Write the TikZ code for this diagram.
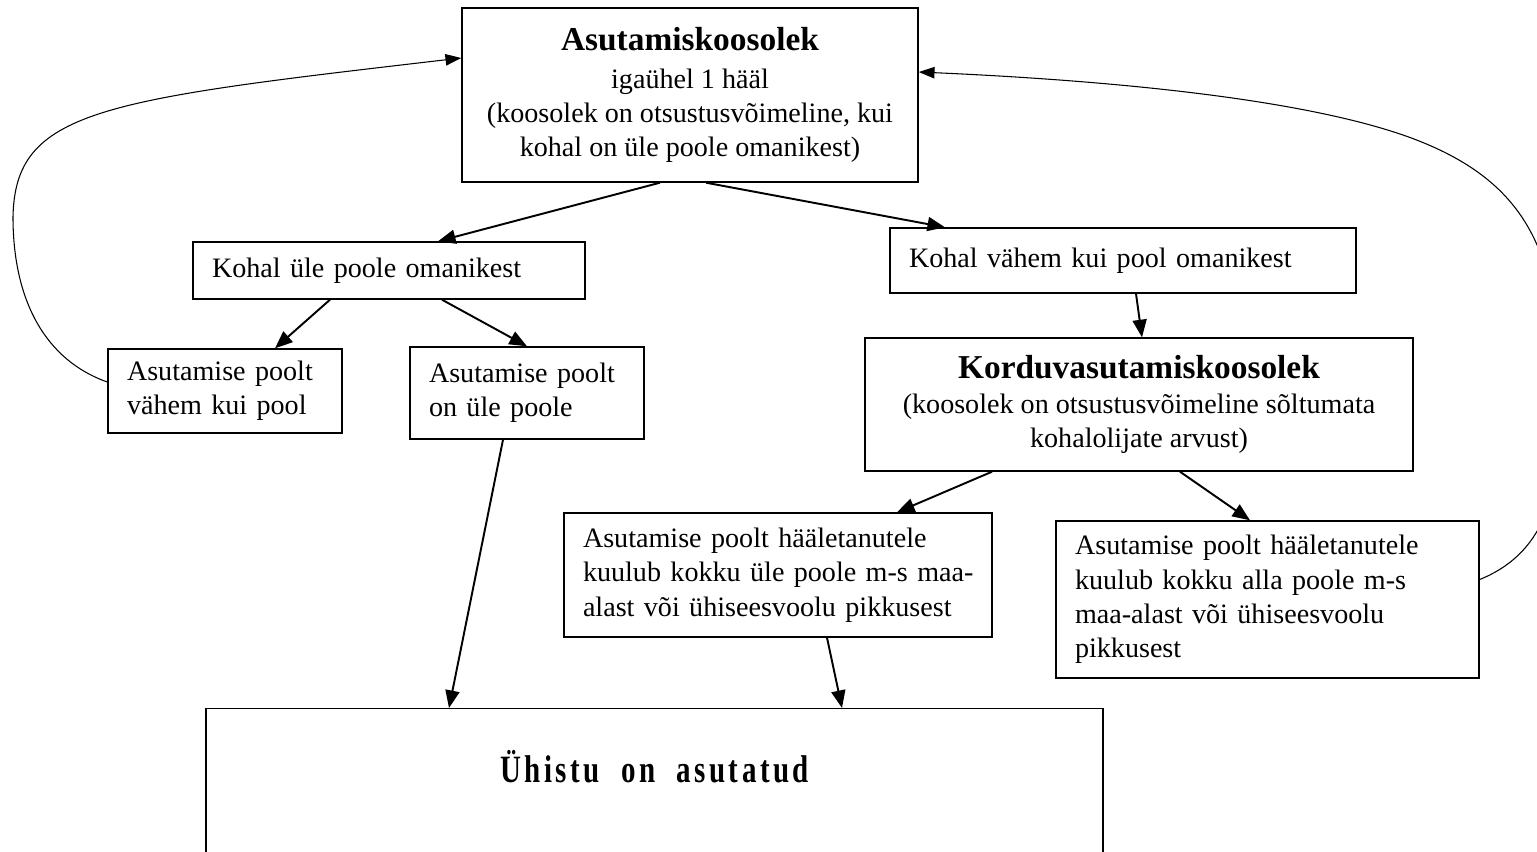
\documentclass[tikz,border=0pt]{standalone}
\usepackage{fontspec}
\setmainfont{Liberation Serif}
\newfontfamily\narrowserif{Liberation Serif}[FakeStretch=0.75,LetterSpace=9,WordSpace=2]
\usetikzlibrary{positioning, arrows.meta}

\tikzset{
  box/.style={draw, line width=0.8pt, inner sep=0pt, font=\fontsize{16}{19.5}\selectfont},
  leftbox/.style={box, align=left, inner xsep=0.38cm},
  link/.style={->, line width=1.1pt, >={Triangle[length=10pt,width=8pt]}},
  backlink/.style={->, line width=0.6pt, >={Triangle[length=9pt,width=6.5pt]}}
}

\begin{document}
\begin{tikzpicture}
    \useasboundingbox (0,0) rectangle (30.74,-17.04);
    \clip (0,0) rectangle (30.74,-17.04);

    \node[box, align=center, minimum width=9.12cm, minimum height=3.48cm] (meet) at (13.8,-1.9)
        {{\fontsize{19}{23}\selectfont\bfseries Asutamiskoosolek}\\[2pt]igaühel 1 hääl\\(koosolek on otsustusvõimeline, kui\\kohal on üle poole omanikest)};
    \node[leftbox, text width=7.08cm, minimum height=1.14cm] (yle) at (7.78,-5.41) {Kohal üle poole omanikest};
    \node[leftbox, text width=8.56cm, minimum height=1.3cm] (vahem) at (22.46,-5.21) {Kohal vähem kui pool omanikest};
    \node[leftbox, text width=3.92cm, minimum height=1.68cm] (alla) at (4.5,-7.82) {Asutamise poolt\\vähem kui pool};
    \node[leftbox, text width=3.92cm, minimum height=1.84cm] (ule) at (10.54,-7.86) {Asutamise poolt\\on üle poole};
    \node[box, align=center, minimum width=10.96cm, minimum height=2.66cm] (kord) at (22.78,-8.09)
        {{\fontsize{19}{23}\selectfont\bfseries Korduvasutamiskoosolek}\\(koosolek on otsustusvõimeline sõltumata\\kohalolijate arvust)};
    \node[leftbox, text width=7.8cm, minimum height=2.48cm] (kokku) at (15.56,-11.5)
        {Asutamise poolt hääletanutele\\\mbox{kuulub kokku üle poole m-s maa-}\\alast või ühiseesvoolu pikkusest};
    \node[leftbox, text width=7.7cm, minimum height=3.14cm] (allap) at (25.35,-11.99)
        {Asutamise poolt hääletanutele\\kuulub kokku alla poole m-s\\maa-alast või ühiseesvoolu\\pikkusest};
    \node[draw, line width=0.8pt, anchor=north, minimum width=17.94cm, inner sep=0pt,
          text height=1.48cm, text depth=3cm, font=\narrowserif\bfseries\fontsize{22}{26}\selectfont]
        (asut) at (13.09,-14.16) {Ühistu on asutatud};

    \draw[link] ([xshift=-0.6cm]meet.south) -- ([xshift=0.98cm]yle.north);
    \draw[link] ([xshift=0.32cm]meet.south) -- ([xshift=-3.56cm]vahem.north);
    \draw[link] ([xshift=-1.18cm]yle.south) -- ([xshift=1cm]alla.north);
    \draw[link] ([xshift=1.06cm]yle.south) -- (ule.north);
    \draw[link] ([xshift=0.26cm]vahem.south) -- ([xshift=0.06cm]kord.north);
    \draw[link] ([xshift=-2.94cm]kord.south) -- ([xshift=2.38cm]kokku.north);
    \draw[link] ([xshift=0.82cm]kord.south) -- ([xshift=-0.35cm]allap.north);
    \draw[link] ([xshift=-0.48cm]ule.south) -- ([xshift=-4.11cm]asut.north);
    \draw[link] ([xshift=0.98cm]kokku.south) -- ([xshift=3.75cm]asut.north);

    \draw[backlink] ([yshift=0.18cm]alla.west) .. controls (0.9,-7.2) and (0.26,-6.0) .. (0.26,-4.34)
        .. controls (0.3,-2.2) and (2,-2.0) .. ([yshift=0.74cm]meet.west);
    \draw[backlink] ([yshift=0.4cm]allap.east) .. controls (30.8,-11.1) and (31.3,-10) .. (31.2,-7.8)
        .. controls (31.2,-5) and (30.5,-3.6) .. (28.2,-2.75)
        .. controls (26,-1.95) and (22,-1.6) .. ([yshift=0.46cm]meet.east);
\end{tikzpicture}
\end{document}
